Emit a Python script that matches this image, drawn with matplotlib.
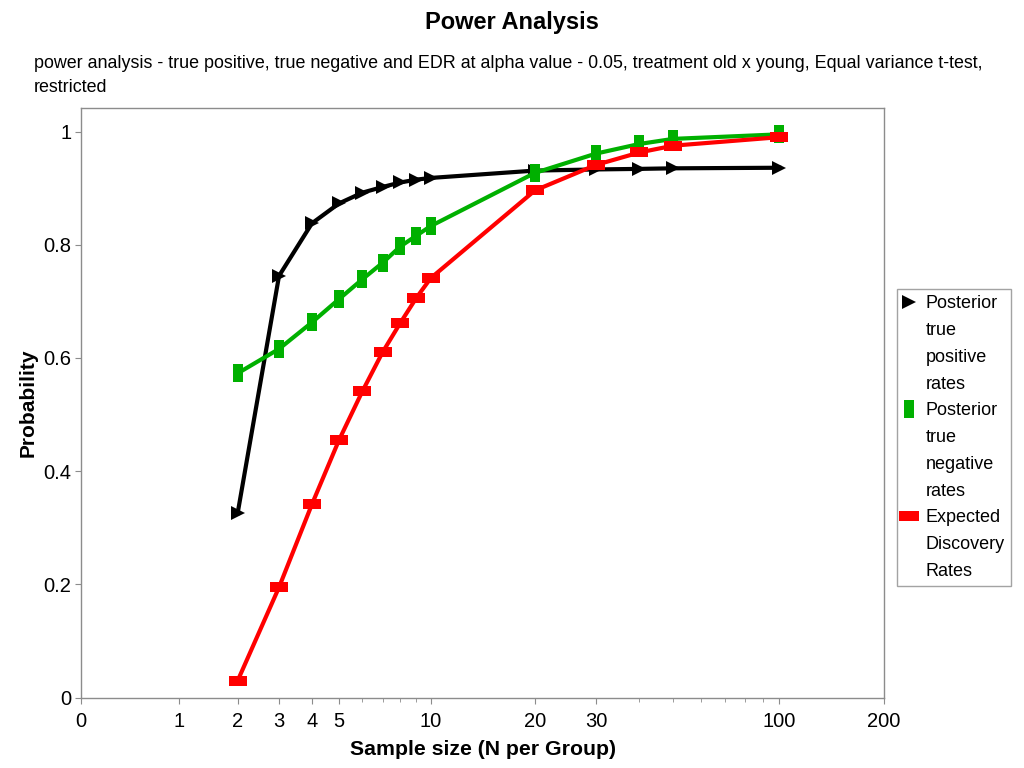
import matplotlib
matplotlib.use("Agg")
import matplotlib.pyplot as plt
from matplotlib.lines import Line2D
import numpy as np

plt.rcParams['font.family'] = ['Liberation Sans', 'DejaVu Sans']

# data
n = [2, 3, 4, 5, 6, 7, 8, 9, 10, 20, 30, 40, 50, 100]
tpr = [0.326, 0.745, 0.838, 0.873, 0.892, 0.902, 0.910, 0.915, 0.918, 0.931, 0.933, 0.934, 0.935, 0.936]
tnr = [0.573, 0.616, 0.663, 0.704, 0.739, 0.768, 0.797, 0.816, 0.833, 0.927, 0.961, 0.978, 0.987, 0.995]
edr = [0.030, 0.195, 0.342, 0.455, 0.541, 0.610, 0.662, 0.706, 0.741, 0.896, 0.941, 0.963, 0.975, 0.990]

xticks = [0, 1, 2, 3, 4, 5, 10, 20, 30, 100, 200]
xminor = [6, 7, 8, 9, 40, 50, 60, 70, 80, 90]
yticks = [0, 0.2, 0.4, 0.6, 0.8, 1]
ylabels = ['0', '0.2', '0.4', '0.6', '0.8', '1']

title = 'Power Analysis'
subtitle = ['power analysis - true positive, true negative and EDR at alpha value - 0.05, '
            'treatment old x young, Equal variance t-test,', 'restricted']
labels = [['Posterior', 'true', 'positive', 'rates'],
          ['Posterior', 'true', 'negative', 'rates'],
          ['Expected', 'Discovery', 'Rates']]

# the x axis is a warped log(n+1) axis; where the labelled ticks sit (fraction of width)
scale_frac = [0, 0.1220, 0.1951, 0.2466, 0.2877, 0.3213, 0.4355, 0.5654, 0.6413, 0.8696, 1.0]
scale_log = np.log10(np.array(xticks, dtype=float) + 1)


def fwd(x):
    x = np.clip(np.asarray(x, dtype=float), 0, None)
    return np.interp(np.log10(x + 1), scale_log, scale_frac)


def inv(y):
    return 10 ** np.interp(np.asarray(y, dtype=float), scale_frac, scale_log) - 1


grey = '#8c8c8c'
vbar = [(-0.265, -0.5), (0.265, -0.5), (0.265, 0.5), (-0.265, 0.5)]
hbar = [(-0.5, -0.26), (0.5, -0.26), (0.5, 0.26), (-0.5, 0.26)]

fig = plt.figure(figsize=(10.24, 7.68), dpi=100)
ax = fig.add_axes([81 / 1024, 1 - 697.7 / 768, 803 / 1024, (697.7 - 108.3) / 768])
ax.set_xscale('function', functions=(fwd, inv))

ax.plot(n, tpr, color='black', lw=3, marker='>', ms=10, mew=0)
ax.plot(n, tnr, color='#00b000', lw=3, marker=vbar, ms=12.5, mew=0)
ax.plot(n, edr, color='#ff0000', lw=3, marker=hbar, ms=13, mew=0)

ax.set_xlim(0, 200)
ax.set_ylim(0, 1.041)
ax.set_xticks(xticks)
ax.set_xticklabels([str(v) for v in xticks])
ax.set_xticks(xminor, minor=True)
ax.set_yticks(yticks)
ax.set_yticklabels(ylabels)
ax.tick_params(which='both', direction='out', color=grey, labelsize=14.5)
ax.tick_params(axis='x', pad=6)
ax.tick_params(axis='y', pad=3)
ax.tick_params(which='major', length=4)
ax.tick_params(which='minor', length=3)
for s in ax.spines.values():
    s.set_color(grey)
    s.set_linewidth(1)

ax.set_xlabel('Sample size (N per Group)', fontsize=15.3, fontweight='bold', labelpad=7)
ax.set_ylabel('Probability', fontsize=15, fontweight='bold', labelpad=4)

fig.text(0.5, 1 - 22 / 768, title, ha='center', va='center', fontsize=17, fontweight='bold')
fig.text(34 / 1024, 1 - 64 / 768, subtitle[0], ha='left', va='center', fontsize=12.9)
fig.text(34 / 1024, 1 - 87 / 768, subtitle[1], ha='left', va='center', fontsize=12.9)

# legend: one row per text line, marker only on the first row of each entry
blank = Line2D([], [], linestyle='none')
handles_first = [
    Line2D([], [], linestyle='none', color='black', marker='>', ms=10, mew=0),
    Line2D([], [], linestyle='none', color='#00b000', marker=vbar, ms=13, mew=0),
    Line2D([], [], linestyle='none', color='#ff0000', marker=hbar, ms=14, mew=0),
]
handles, texts = [], []
for h, lines in zip(handles_first, labels):
    for i, t in enumerate(lines):
        handles.append(h if i == 0 else blank)
        texts.append(t)

leg = fig.legend(handles, texts, loc='upper left', bbox_to_anchor=(897 / 1024, 1 - 289 / 768),
                 bbox_transform=fig.transFigure, borderaxespad=0, fontsize=13,
                 frameon=True, fancybox=False, edgecolor=grey, handlelength=0.6,
                 handletextpad=0.62, labelspacing=0.54, borderpad=0.35)
leg.get_frame().set_linewidth(1)

fig.savefig('out.png', dpi=100)
